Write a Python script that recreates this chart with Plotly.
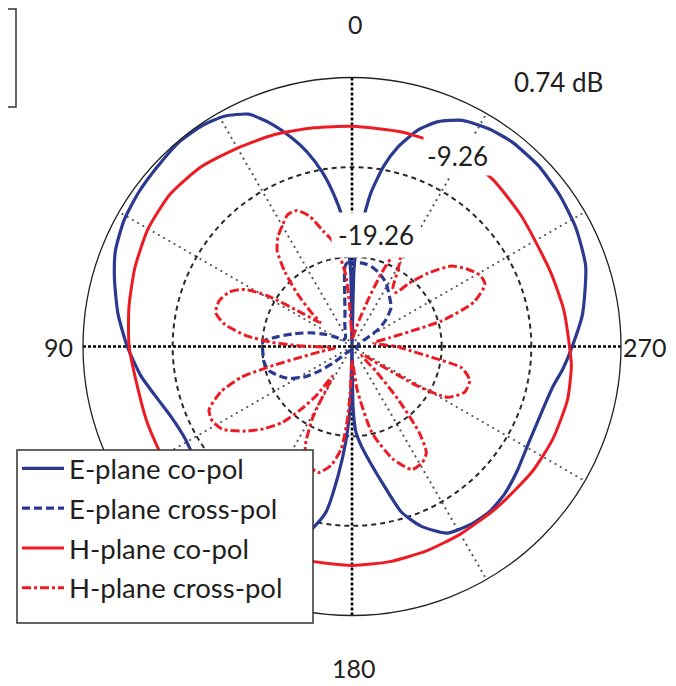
import plotly.graph_objects as go

# ---------------- data (angle in degrees, level in dB) ----------------
e_co_theta = [0, 1, 2.5, 4.2, 7, 9.6, 13, 16, 20, 24, 29, 34, 40, 47, 54, 61, 68, 74, 82, 90,
              98, 105, 111, 119, 127, 135, 143, 150, 156, 162, 167, 171, 174, 176.5, 178.5, 180,
              181, 182.5, 185, 189, 193, 196.6, 201, 207, 214, 220, 226, 233, 241, 250, 258.8,
              264, 270, 278, 289, 298, 306, 314, 322, 328, 334, 339, 343, 347, 350, 353, 355,
              357, 358.5, 360]
e_co_db = [-29.0, -21.0, -17.5, -14.9, -12.0, -9.6, -7.0, -5.1, -2.8, -0.9, 0.1, 0.5, 0.6, 0.3,
           0.1, -0.2, -0.8, -1.7, -2.9, -4.2,
           -5.5, -6.8, -7.6, -8.0, -7.6, -7.0, -6.6, -6.6, -7.0, -7.6, -8.2, -10.5, -15.0, -19.0,
           -23.0, -29.0,
           -22.5, -19.8, -18.3, -16.1, -13.3, -10.0, -7.8, -5.9, -5.4, -5.3, -5.6, -6.2, -6.8,
           -6.9, -6.4,
           -5.6, -4.7, -3.3, -1.7, -1.0, -0.6, -0.3, -0.3, -0.6, -1.2, -2.4, -4.0, -6.4, -8.8,
           -12.0, -15.0,
           -17.5, -20.5, -29.0]

e_x_theta = [0, 3, 5, 8, 12, 17, 25, 35, 50, 58, 62, 65, 72, 78, 83, 87, 94, 100, 106, 112,
             117, 123, 127, 131, 137, 150, 180, 210, 250, 290, 298, 303, 308, 315, 324, 332,
             340, 346, 352, 360]
e_x_db = [-19.9, -19.9, -20.3, -23.4, -25.5, -26.5, -27.5, -28.0, -28.1, -27.5, -26.8, -26.1,
          -24.3, -22.5, -20.7, -19.3, -19.3, -19.3, -19.6, -20.5,
          -21.4, -23.1, -24.8, -26.4, -28.1, -28.7, -28.8, -28.8, -28.7, -28.5, -27.8, -25.8,
          -24.5, -23.1, -22.2, -21.2,
          -20.5, -20.1, -19.9, -19.9]

h_co_theta = [0, 10, 20, 30, 40, 50, 60, 70, 80, 90, 100, 110, 120, 135, 150, 165, 180, 190,
              200, 210, 222, 235, 245, 256, 265, 270, 280, 290, 298, 308, 320, 334, 347, 360]
h_co_db = [-4.7, -4.5, -4.1, -3.7, -3.1, -2.8, -3.0, -3.5, -4.0, -4.4, -4.9, -4.9, -4.8, -4.8,
           -4.8, -4.8, -4.85, -4.9, -5.0, -5.1, -5.1, -4.8, -4.6, -4.5, -4.7, -5.0, -5.3, -5.6,
           -5.7, -5.4, -4.9, -4.6, -4.7, -4.7]

h_x_theta = [0, 2, 3.5, 5, 8, 11, 14, 18, 22, 26, 30, 34, 38, 42, 46, 50, 53, 56, 59, 62, 66,
             71, 76, 80, 84, 87, 89.5, 92, 96, 99, 101.5, 103.5, 105.5, 109, 114, 118, 122.5,
             128.5, 133, 137.5, 141, 144, 146.5, 148.5, 151, 155, 160, 165, 170, 174, 176.5,
             178, 180, 183, 187, 193, 200, 206, 211, 215, 218, 221, 224, 228, 233, 236, 239,
             242, 248, 254, 259, 262, 266, 270, 275, 280, 283, 286, 290, 295, 299, 304, 309,
             314, 318, 321, 325, 329, 332, 335, 338, 341, 345, 350, 355, 360]
h_x_db = [-28.5, -27.3, -24.3, -21.3, -18.8, -17.1, -16.0, -14.0, -12.9, -12.9, -13.7, -14.5,
          -15.7, -18.1, -20.8, -23.3, -24.8, -22.8, -18.3, -15.7, -14.3,
          -13.6, -13.6, -14.8, -17.3, -20.3, -23.8, -26.8, -27.3, -25.8, -23.8, -20.3, -16.5,
          -13.8, -11.8, -11.6, -12.1,
          -14.1, -15.8, -17.8, -20.3, -22.5, -25.3, -24.3, -20.3, -16.9, -15.2, -14.7, -15.8,
          -17.8, -21.3,
          -24.8, -27.8, -27.3, -24.3, -19.4, -15.9, -14.0, -14.1, -14.8, -17.1, -21.3, -25.3,
          -27.8, -27.8, -26.3, -20.7,
          -17.2, -15.7, -15.6, -16.8, -20.0, -22.8, -24.3, -26.3, -26.8, -25.0, -18.8, -14.8,
          -12.9, -12.9, -13.8, -15.0,
          -17.5, -19.8, -21.5, -21.3, -19.3, -17.8, -17.8, -20.3, -23.8, -26.3, -27.8, -28.3,
          -28.5]

series_names = ["E-plane co-pol", "E-plane cross-pol", "H-plane co-pol", "H-plane cross-pol"]
r_min, r_max = -29.26, 0.74
ring_vals = [-19.26, -9.26]
ring_labels = ["-19.26", "-9.26", "0.74 dB"]
angle_labels = ["0", "90", "180", "270"]
main_axes = [0, 90]

BLUE = "rgb(43,57,144)"
RED = "rgb(237,28,36)"
TXT = "#231f20"
FONT = "Lato"

# page body has an 8px margin: figure is laid out in window pixels minus this offset
OFF = 8
W, H = 676 - 2 * OFF, 686 - OFF


def px(x):
    return (x - OFF) / W


def py(y):
    return 1 - (y - OFF) / H


fig = go.Figure()

# main (0/180 and 90/270) bold dotted axes
for a in main_axes:
    fig.add_trace(go.Scatterpolar(
        r=[r_max, r_min, r_max], theta=[a, a, a + 180], mode="lines",
        line=dict(color="black", width=2.6, dash="3px,2px"),
        showlegend=False, hoverinfo="skip"))

styles = [
    dict(color=BLUE, width=3.2, dash="solid"),
    dict(color=BLUE, width=3.2, dash="8px,4px"),
    dict(color=RED, width=3.0, dash="solid"),
    dict(color=RED, width=3.0, dash="9px,3px,3px,3px"),
]
data = [(e_co_theta, e_co_db), (e_x_theta, e_x_db), (h_co_theta, h_co_db), (h_x_theta, h_x_db)]
for i, ((th, db), name, st) in enumerate(zip(data, series_names, styles)):
    fig.add_trace(go.Scatterpolar(
        r=db, theta=th, mode="lines", name=name, legendgroup=f"g{i}",
        line=dict(color=st["color"], width=st["width"], dash=st["dash"], shape="spline", smoothing=0.6)))

cx, cy, R = 352, 346.5, 269   # window pixel centre and radius of the polar area
fig.update_layout(
    width=W, height=H,
    margin=dict(l=0, r=0, t=0, b=0),
    paper_bgcolor="white",
    font=dict(family=FONT, size=26, color=TXT),
    polar=dict(
        domain=dict(x=[px(cx - R), px(cx + R)], y=[py(cy + R), py(cy - R)]),
        bgcolor="white",
        radialaxis=dict(range=[r_min, r_max], tickvals=ring_vals, showticklabels=False,
                        ticks="", showline=False, gridcolor="#2a2a2a", griddash="5px,4px",
                        gridwidth=1.8),
        angularaxis=dict(rotation=90, direction="counterclockwise",
                         tickvals=[30, 60, 120, 150, 210, 240, 300, 330],
                         showticklabels=False, ticks="", showline=True, linecolor="#222",
                         linewidth=1.3, gridcolor="#555", griddash="2px,4px", gridwidth=1.6),
    ),
    legend=dict(x=px(17), y=py(444), xanchor="left", yanchor="top",
                bgcolor="rgba(0,0,0,0)", borderwidth=0,
                font=dict(family=FONT, size=27.5, color=TXT),
                tracegroupgap=1, itemwidth=42),
    showlegend=True,
)

# legend frame (white box hiding the curves behind it)
fig.add_shape(type="rect", xref="paper", yref="paper", x0=px(17), x1=px(313),
              y0=py(623), y1=py(450), fillcolor="white", layer="above",
              line=dict(color="#333", width=1.5))

# angle labels
ang_pos = [(355, 24), (58, 347), (354, 668), (645, 347)]
for txt, (x, y) in zip(angle_labels, ang_pos):
    fig.add_annotation(text=txt, x=px(x), y=py(y), xref="paper", yref="paper",
                       xanchor="center", yanchor="middle", showarrow=False,
                       font=dict(family=FONT, size=25, color=TXT))

# radial level labels (white background hides lines as in original)
lab_pos = [(376, 235, 6), (457, 156, 3), (558, 82, 0)]
for txt, (x, y, pad) in zip(ring_labels, lab_pos):
    fig.add_annotation(text=txt, x=px(x), y=py(y), xref="paper", yref="paper",
                       xanchor="center", yanchor="middle", showarrow=False,
                       bgcolor="white" if pad else None, borderpad=pad,
                       font=dict(family=FONT, size=26, color=TXT))

# partially cropped box at top-left edge
fig.add_shape(type="rect", xref="paper", yref="paper", x0=px(-1), x1=px(16),
              y0=py(107), y1=py(9), line=dict(color="#333", width=1.5))

fig.write_html("out.html")
